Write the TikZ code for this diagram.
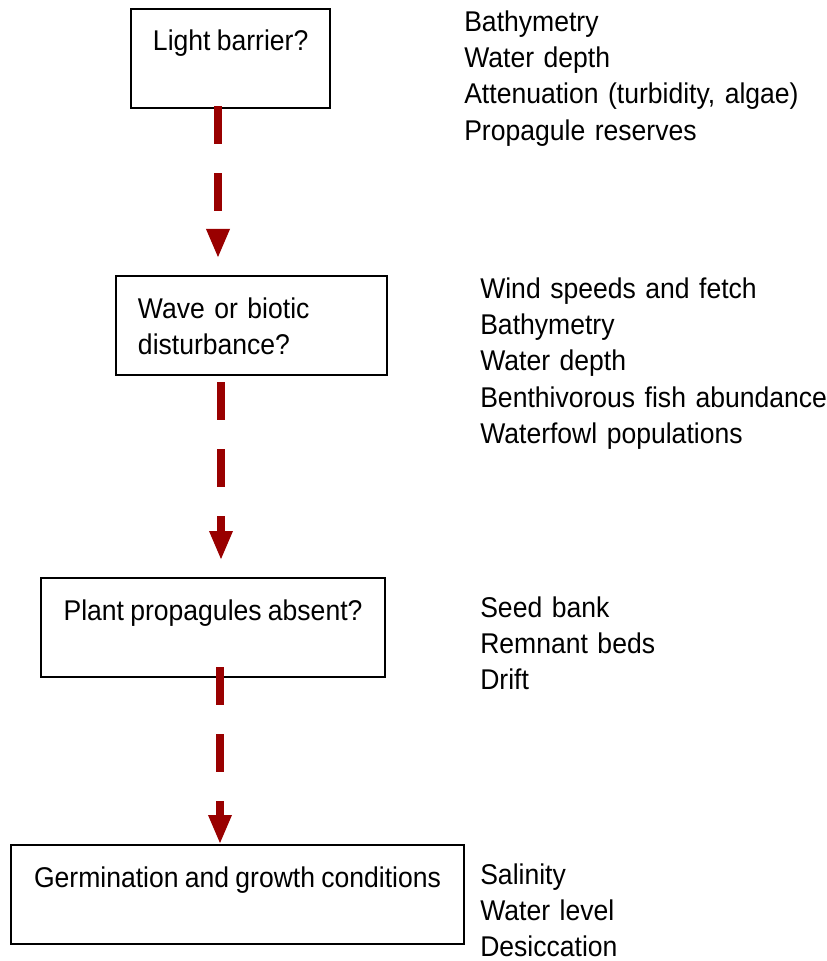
\documentclass[tikz,border=0pt]{standalone}
\usepackage{fontspec}
\setmainfont{Liberation Sans}[FakeStretch=0.93, WordSpace=0.85]
\usetikzlibrary{arrows.meta}
\usetikzlibrary{positioning}
\definecolor{darkred}{HTML}{990000}
\tikzset{box/.style = {draw, line width = 1.4pt, anchor = north west,
                       inner xsep = 0.55cm, inner ysep = 0,
                       text height = 1.05cm, text depth = 1.425cm, align = left}}
\tikzset{list/.style = {anchor = base west, inner sep = 0, text width = 9cm, align = left}}
\tikzset{flow/.style = {draw = darkred, line width = 0.2cm,
                        dash pattern = on 0.95cm off 0.725cm,
                        -{Triangle[length = 0.7cm, width = 0.6cm, line width = 0pt]}}}

\begin{document}
\begin{tikzpicture}[x = 0.025cm, y = -0.025cm]
      \fontsize{20.3}{25.9}\selectfont
      \useasboundingbox (0, 0) rectangle (827, 961);

      \node [box, minimum width = 4.95cm] (light) at (130, 8) {Light barrier?};
      \node [box, text width = 5.675cm] (wave) at (115, 275) {Wave or biotic\\disturbance?};
      \node [box, minimum width = 8.6cm] (plant) at (40, 577) {Plant propagules absent?};
      \node [box, minimum width = 11.325cm] (germ) at (10, 844) {Germination and growth conditions};

      \node [list] (lightlist) at (464, 31) {Bathymetry\\Water depth\\Attenuation (turbidity, algae)\\Propagule reserves};
      \node [list] (wavelist) at (480, 298) {Wind speeds and fetch\\Bathymetry\\Water depth\\Benthivorous fish abundance\\Waterfowl populations};
      \node [list] (plantlist) at (480, 617) {Seed bank\\Remnant beds\\Drift};
      \node [list] (germlist) at (480, 884) {Salinity\\Water level\\Desiccation};

      \coordinate (lightout) at (218, 106);
      \coordinate (wavein) at (218, 257);
      \coordinate (waveout) at (221, 382);
      \coordinate (plantin) at (221, 559);
      \coordinate (plantout) at (220, 667);
      \coordinate (germin) at (220, 843);

      \draw [flow] (lightout) -- (wavein);
      \draw [flow] (waveout) -- (plantin);
      \draw [flow] (plantout) -- (germin);
    \end{tikzpicture}
\end{document}
